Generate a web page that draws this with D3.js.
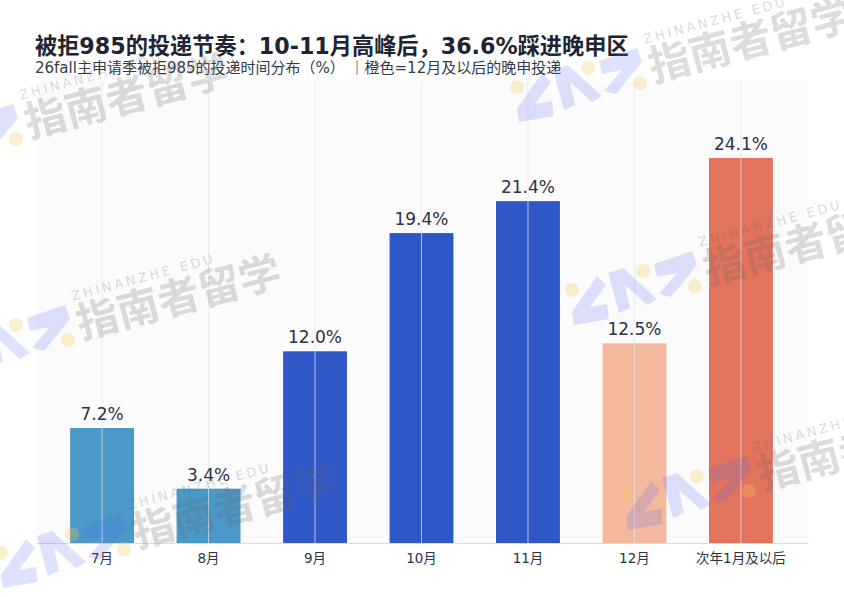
<!DOCTYPE html>
<html>
<head>
<meta charset="utf-8">
<script src="https://cdn.jsdelivr.net/npm/d3@7"></script>
<style>
  body { margin: 0; background: #fff; }
  text { font-family: "DejaVu Sans", "Noto Sans CJK SC", sans-serif; }
</style>
</head>
<body>
<svg id="chart" width="844" height="597"></svg>
<script>
// data
const months = ["7月", "8月", "9月", "10月", "11月", "12月", "次年1月及以后"];
const shares = [7.2, 3.4, 12.0, 19.4, 21.4, 12.5, 24.1];
const barColors = ["#4a99c9", "#4a99c9", "#3057c8", "#3057c8", "#3057c8", "#f4b99d", "#e2735c"];
const titleText = "被拒985的投递节奏：10-11月高峰后，36.6%踩进晚申区";
const subtitleText = "26fall主申请季被拒985的投递时间分布（%） ｜橙色=12月及以后的晚申投递";

const svg = d3.select("#chart");
const margin = { left: 35, right: 36, top: 81, bottom: 54 };
const W = 844, H = 597;

const x = d3.scaleBand()
  .domain(months)
  .range([margin.left, W - margin.right])
  .paddingInner(0.4)
  .paddingOuter(0.33);

const y = d3.scaleLinear()
  .domain([0, d3.max(shares) * 1.2])
  .range([H - margin.bottom, margin.top]);

// plot background
svg.append("rect")
  .attr("x", margin.left).attr("y", margin.top)
  .attr("width", W - margin.left - margin.right)
  .attr("height", H - margin.top - margin.bottom)
  .attr("fill", "#fbfbfc");

// bars
svg.selectAll(".bar")
  .data(months)
  .join("rect")
  .attr("class", "bar")
  .attr("x", d => x(d))
  .attr("y", (d, i) => y(shares[i]))
  .attr("width", x.bandwidth())
  .attr("height", (d, i) => y(0) - y(shares[i]))
  .attr("fill", (d, i) => barColors[i]);

// vertical grid, sits over the bars like in the original
svg.selectAll(".grid")
  .data(months)
  .join("line")
  .attr("class", "grid")
  .attr("x1", d => x(d) + x.bandwidth() / 2)
  .attr("x2", d => x(d) + x.bandwidth() / 2)
  .attr("y1", margin.top)
  .attr("y2", y(0))
  .attr("stroke", "#e6e6ec")
  .attr("stroke-opacity", 0.75)
  .attr("stroke-width", 1);

// x axis
const xAxis = svg.append("g")
  .attr("transform", `translate(0,${y(0)})`)
  .call(d3.axisBottom(x).tickSize(0).tickPadding(10));
xAxis.select(".domain").attr("stroke", "#d8dded").attr("stroke-width", 1.2);
xAxis.selectAll("text")
  .attr("font-size", 13.5)
  .attr("fill", "#2b3245")
  .style("font-family", '"DejaVu Sans", "Noto Sans CJK SC", sans-serif');

// value labels
svg.selectAll(".val")
  .data(months)
  .join("text")
  .attr("class", "val")
  .attr("x", d => x(d) + x.bandwidth() / 2)
  .attr("y", (d, i) => y(shares[i]) - 8)
  .attr("text-anchor", "middle")
  .attr("font-size", 17)
  .attr("fill", "#2b3245")
  .text((d, i) => shares[i].toFixed(1) + "%");

// titles
svg.append("text")
  .attr("x", 35).attr("y", 54)
  .attr("font-size", 22.2)
  .attr("font-weight", "bold")
  .attr("fill", "#1f2433")
  .text(titleText);
svg.append("text")
  .attr("x", 35).attr("y", 73)
  .attr("font-size", 15)
  .attr("fill", "#333a4a")
  .text(subtitleText);

// watermark tiles: logo + brand text, semi-transparent on top
// each entry is the right-hand yellow dot of the logo
const marks = [[16, 139], [640, 83], [68, 340], [695, 286], [124, 549], [749, 491]];
const logoLeft = [[-123, 26], [-98, -10], [-89, -1], [-105, 21], [-88, 18], [-86, 33], [-121, 39]];
const logoMid = [[-87, -13], [-72, -18], [-38, 13], [-48, 19], [-70, -1], [-65, 22], [-76, 27]];
const logoRight = [[-41, -22], [-3, -35], [2, -21], [-24, 11], [-36, 8], [-18, -13], [-38, -9]];
const logoDots = [[-123, 4], [-52, -15], [0, 0]];

const wm = svg.append("g").attr("pointer-events", "none");
marks.forEach(([mx, my]) => {
  const logo = wm.append("g").attr("transform", `translate(${mx},${my})`);
  [logoLeft, logoMid, logoRight].forEach(pts => {
    logo.append("path")
      .attr("d", d3.line()(pts) + "Z")
      .attr("fill", "rgba(80,100,240,0.19)");
  });
  logoDots.forEach(([cx, cy]) => {
    logo.append("circle").attr("cx", cx).attr("cy", cy).attr("r", 7)
      .attr("fill", "rgba(250,200,90,0.3)");
  });
  const g = wm.append("g").attr("transform", `translate(${mx + 13},${my - 1}) rotate(-15)`);
  g.append("text")
    .attr("x", 2).attr("y", -39)
    .attr("font-size", 13)
    .attr("letter-spacing", 3)
    .attr("fill", "rgba(100,100,100,0.25)")
    .text("ZHINANZHE EDU");
  g.append("text")
    .attr("x", 0).attr("y", 0)
    .attr("font-size", 42)
    .attr("font-weight", "bold")
    .attr("fill", "rgba(100,100,100,0.24)")
    .style("font-family", '"Noto Sans CJK SC", sans-serif')
    .text("指南者留学");
});
</script>
</body>
</html>
